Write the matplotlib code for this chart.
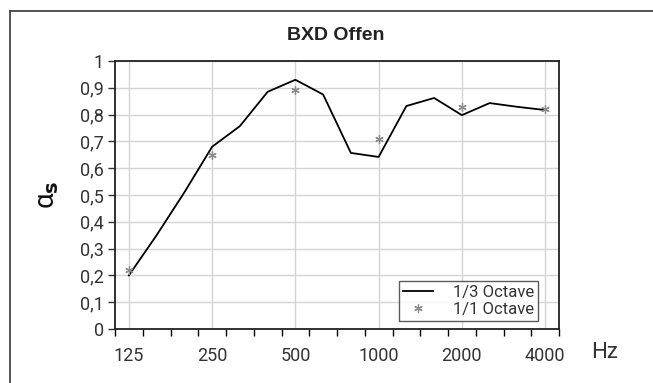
import matplotlib
matplotlib.use('Agg')
import matplotlib.pyplot as plt
from matplotlib.lines import Line2D
import numpy as np

# 1/3 octave band centres and values
bands = ['125', '160', '200', '250', '315', '400', '500', '630', '800',
         '1000', '1250', '1600', '2000', '2500', '3150', '4000']
third_oct = [0.20, 0.35, 0.51, 0.68, 0.757, 0.885, 0.93, 0.875, 0.657,
             0.642, 0.832, 0.862, 0.798, 0.843, 0.829, 0.817]

# 1/1 octave values
oct_bands = ['125', '250', '500', '1000', '2000', '4000']
full_oct = [0.22, 0.65, 0.89, 0.71, 0.83, 0.82]

plt.rcParams['font.family'] = ['Roboto', 'DejaVu Sans']

W, H = 653, 383
fig = plt.figure(figsize=(W / 100, H / 100), dpi=100)
ax = fig.add_axes([115 / W, 1 - 329 / H, 444 / W, 268 / H])

x = np.arange(len(bands))
xo = [bands.index(b) for b in oct_bands]

ax.plot(x, third_oct, color='black', lw=1.3, label='1/3 Octave')
ax.plot(xo, full_oct, ls='none', marker=(6, 2, 0), ms=6, mew=0.9,
        color='#8a8a8a', label='1/1 Octave')

ax.set_xlim(-0.5, len(bands) - 0.5)
ax.set_ylim(0, 1)

# category boundary ticks, labels on the octave bands
ax.set_xticks(np.arange(-0.5, len(bands), 1))
ax.set_xticklabels([])
ax.set_xticks(xo, minor=True)
ax.set_xticklabels(oct_bands, minor=True)
ax.tick_params(axis='x', which='major', direction='out', length=5, width=1)
ax.tick_params(axis='x', which='minor', length=0, pad=13, labelsize=13,
               colors='#333333')

yt = np.round(np.arange(0, 1.01, 0.1), 1)
ax.set_yticks(yt)
ax.set_yticklabels(['0' if v == 0 else ('1' if v == 1 else f'{v:.1f}'.replace('.', ',')) for v in yt])
ax.tick_params(axis='y', direction='out', length=5, width=1, pad=3,
               labelsize=13, colors='#333333')

ax.grid(True, axis='y', color='#d4d4d4', lw=1)
ax.grid(True, axis='x', which='minor', color='#d4d4d4', lw=1)
ax.set_axisbelow(True)
for s in ax.spines.values():
    s.set_color('#222222')
    s.set_linewidth(1.3)

ax.set_ylabel(r'α$_\mathbf{s}$', fontsize=20, labelpad=14, color='#111111')

leg = ax.legend(loc='lower right', bbox_to_anchor=(0.953, 0.03),
                fontsize=12, frameon=True, fancybox=False, edgecolor='#333333',
                handlelength=1.8, borderpad=0.25, labelspacing=0.1,
                handletextpad=1.2, borderaxespad=0)
leg.get_frame().set_linewidth(1)
for t in leg.get_texts():
    t.set_color('#333333')

fig.text(605 / W, 1 - 353 / H, 'Hz', fontsize=16, ha='center', va='center',
         color='#333333')
fig.text(336 / W, 1 - 35 / H, 'BXD Offen', fontsize=14, fontweight='bold',
         family='Liberation Sans', ha='center', va='center', color='#222222')

# outer frame (cut at right and bottom)
fig.add_artist(Line2D([10 / W, 10 / W], [0, 1 - 11 / H], color='#444444', lw=1.3))
fig.add_artist(Line2D([10 / W, 1], [1 - 11 / H, 1 - 11 / H], color='#444444', lw=1.3))

fig.savefig('out.png', dpi=100)
